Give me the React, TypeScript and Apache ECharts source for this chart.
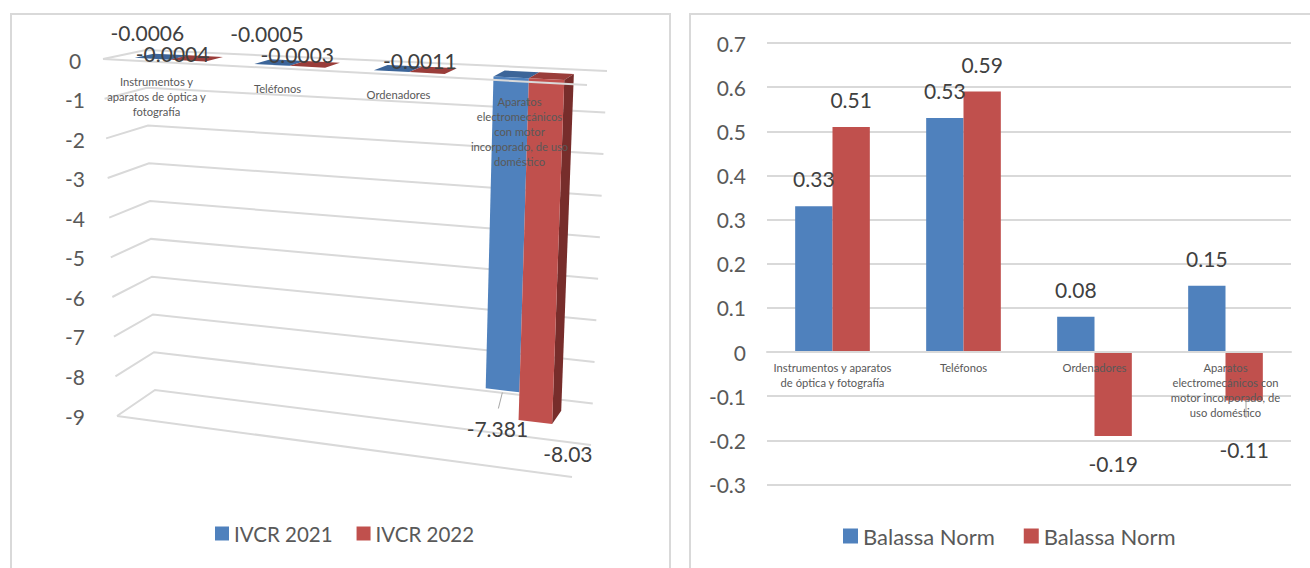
import React, { useEffect, useRef } from "react";
import * as echarts from "echarts";

const categoriesLeft = [
  "Instrumentos y\naparatos de óptica y\nfotografía",
  "Teléfonos",
  "Ordenadores",
  "Aparatos\nelectromecánicos\ncon motor\nincorporado, de uso\ndoméstico",
];
const categoriesRight = [
  "Instrumentos y aparatos\nde óptica y fotografía",
  "Teléfonos",
  "Ordenadores",
  "Aparatos\nelectromecánicos con\nmotor incorporado, de\nuso doméstico",
];
const ivcr2021 = [-0.0006, -0.0005, -0.0011, -7.381];
const ivcr2022 = [-0.0004, -0.0003, -0.0011, -8.03];
const balassaA = [0.33, 0.53, 0.08, 0.15];
const balassaB = [0.51, 0.59, -0.19, -0.11];
const ticksLeft = [0, -1, -2, -3, -4, -5, -6, -7, -8, -9];

const BLUE = "#4f81bd";
const RED = "#c0504d";
const BLUE_TOP = "#3c6599";
const RED_TOP = "#9a3d3a";
const RED_SIDE = "#772d2b";
const GRID = "#d9d9d9";
const FONT = "Lato";

// 3D box of the left chart, in pixels
const GL = { left: 90, top: 60, width: 400, height: 356 };
const lerp = (a: number, b: number, k: number) => a + (b - a) * k;
const FL0 = [103, 59], FL9 = [117, 416];
const FR0 = [587, 85], FR9 = [572, 477];
const BL0 = [146, 50], BL9 = [155, 390];
const BR0 = [607, 71], BR9 = [591, 445];
const project = (u: number, t: number, d: number): number[] =>
  [0, 1].map((i) => {
    const front = lerp(lerp(FL0[i], FL9[i], t), lerp(FR0[i], FR9[i], t), u);
    const back = lerp(lerp(BL0[i], BL9[i], t), lerp(BR0[i], BR9[i], t), u);
    return lerp(front, back, d);
  });
const toU = (px: number) => (px - GL.left) / GL.width;
const toT = (py: number) => (py - GL.top) / GL.height;

const D_FRONT = 0.25;
const D_BACK = 0.7;
const HALF = 0.037;
const CENTER_SHIFT = -0.007;

const barRender = (shift: number, front: string, top: string, side: string | null) =>
  (_: any, api: any) => {
    const c = api.coord([api.value(0), api.value(1)]);
    const base = api.coord([api.value(0), 0]);
    const uc = toU(c[0]) + CENTER_SHIFT + shift;
    const t0 = toT(base[1]);
    const t1 = toT(c[1]);
    const a = uc - HALF;
    const b = uc + HALF;
    const children: any[] = [
      {
        type: "polygon",
        shape: { points: [project(a, t0, D_FRONT), project(b, t0, D_FRONT), project(b, t0, D_BACK), project(a, t0, D_BACK)] },
        style: { fill: top },
      },
    ];
    if (side) {
      children.push({
        type: "polygon",
        shape: { points: [project(b, t0, D_FRONT), project(b, t0, D_BACK), project(b, t1, D_BACK), project(b, t1, D_FRONT)] },
        style: { fill: side },
      });
    }
    children.push({
      type: "polygon",
      shape: { points: [project(a, t0, D_FRONT), project(b, t0, D_FRONT), project(b, t1, D_FRONT), project(a, t1, D_FRONT)] },
      style: { fill: front },
    });
    return { type: "group", children };
  };

const gridBackRender = (_: any, api: any) => {
  const y = api.coord([0, api.value(0)])[1];
  const t = toT(y);
  const pts = [project(0, t, 0), project(0, t, 1), project(1, t, 1)];
  const children: any[] = [
    { type: "polyline", shape: { points: pts }, style: { stroke: GRID, lineWidth: 2, fill: "none" } },
  ];
  if (api.value(0) === ticksLeft[ticksLeft.length - 1]) {
    children.push({
      type: "polyline",
      shape: { points: [project(0, t, 0), project(1, t, 0)] },
      style: { stroke: GRID, lineWidth: 2, fill: "none" },
    });
  }
  return { type: "group", children };
};

const gridFrontRender = (_: any, api: any) => {
  const t = toT(api.coord([0, api.value(0)])[1]);
  return {
    type: "polyline",
    shape: { points: [project(0, t, 0), project(1, t, 0)] },
    style: { stroke: GRID, lineWidth: 2, fill: "none" },
  };
};

const catRender = (params: any, api: any) => {
  const c = api.coord([api.value(0), 0]);
  const p = project(toU(c[0]), 0, 0);
  return {
    type: "text",
    style: {
      text: categoriesLeft[params.dataIndex],
      x: p[0] - 7,
      y: p[1] + 12,
      align: "center",
      verticalAlign: "top",
      fill: "#595959",
      fontSize: 11.2,
      lineHeight: 15,
      fontFamily: FONT,
    },
  };
};

// label displacement from each bar's front base corner: [series][category]
const labelShift: (number[] | null)[][] = [
  [[-7, -26], [-7, -32], null, [-7, 38]],
  [[-20, -7], [-15, -13], [-12, -13], [28, 31]],
];

const labelRender = (_: any, api: any) => {
  const cat = api.value(0);
  const v = api.value(1);
  const s = api.value(2);
  const shift = labelShift[s][cat];
  if (!shift) return { type: "group", children: [] };
  const c = api.coord([cat, v]);
  const u = toU(c[0]) + (s === 0 ? -0.04 : 0.04);
  const p = project(u, toT(c[1]), D_FRONT);
  const children: any[] = [
    {
      type: "text",
      style: {
        text: String(v),
        x: p[0] + shift[0],
        y: p[1] + shift[1],
        align: "center",
        verticalAlign: "middle",
        fill: "#404040",
        fontSize: 21,
        fontFamily: FONT,
      },
    },
  ];
  if (v < -1 && s === 0) {
    children.push({
      type: "line",
      shape: { x1: p[0] - 2, y1: p[1] + 2, x2: p[0] - 6, y2: p[1] + 18 },
      style: { stroke: "#a6a6a6", lineWidth: 1 },
    });
  }
  return { type: "group", children };
};

const customBase = { type: "custom", coordinateSystem: "cartesian2d", xAxisIndex: 0, yAxisIndex: 0, clip: false, silent: true };
const pairs = (arr: number[]) => arr.map((v, i) => [i, v]);

const rightBar = (arr: number[], name: string, color: string) => ({
  type: "bar",
  name,
  xAxisIndex: 1,
  yAxisIndex: 1,
  barCategoryGap: "43%",
  barGap: 0,
  itemStyle: { color },
  data: arr.map((v) => ({
    value: v,
    label: {
      show: true,
      position: v < 0 ? "bottom" : "top",
      distance: v === balassaB[3] ? 38 : 17,
      color: "#404040",
      fontSize: 21,
      fontFamily: FONT,
    },
  })),
});

export default function App() {
  const ref = useRef<HTMLDivElement>(null);
  useEffect(() => {
    const chart = echarts.init(ref.current!, undefined, { renderer: "svg" });
    chart.setOption({
      animation: false,
      backgroundColor: "#ffffff",
      textStyle: { fontFamily: FONT },
      grid: [
        { left: GL.left, top: GL.top, width: GL.width, height: GL.height },
        { left: 767, top: 43, width: 524, height: 441.5 },
      ],
      xAxis: [
        { type: "category", gridIndex: 0, data: categoriesLeft, show: false },
        {
          type: "category",
          gridIndex: 1,
          data: categoriesRight,
          z: 6,
          axisLine: { show: true, onZero: true, lineStyle: { color: GRID, width: 2 } },
          axisTick: { show: false },
          axisLabel: { color: "#595959", fontSize: 11.2, lineHeight: 15, margin: -124.6, fontFamily: FONT, interval: 0 },
        },
      ],
      yAxis: [
        {
          type: "value",
          gridIndex: 0,
          min: -9,
          max: 0,
          interval: 1,
          splitLine: { show: false },
          axisLine: { show: false },
          axisTick: { show: false },
          axisLabel: { color: "#595959", fontSize: 21, fontFamily: FONT, align: "center", margin: 15 },
        },
        {
          type: "value",
          gridIndex: 1,
          min: -0.3,
          max: 0.7,
          interval: 0.1,
          splitLine: { show: true, lineStyle: { color: GRID, width: 2 } },
          axisLine: { show: false },
          axisTick: { show: false },
          axisLabel: { color: "#595959", fontSize: 21, fontFamily: FONT, margin: 21, padding: [0, 0, 3, 0] },
        },
      ],
      legend: [
        {
          left: 210,
          top: 518,
          itemWidth: 14,
          itemHeight: 14,
          itemGap: 24,
          icon: "rect",
          data: ["IVCR 2021", "IVCR 2022"],
          textStyle: { color: "#595959", fontSize: 20.5, fontFamily: FONT },
        },
        {
          left: 838,
          top: 520,
          itemWidth: 15,
          itemHeight: 15,
          itemGap: 29,
          icon: "rect",
          data: ["Balassa Norm", "Balassa Norm "],
          textStyle: { color: "#595959", fontSize: 22, fontFamily: FONT },
        },
      ],
      graphic: [
        { type: "rect", z: -1, shape: { x: 11, y: 14, width: 659, height: 600 }, style: { fill: "none", stroke: GRID, lineWidth: 2 } },
        { type: "rect", z: -1, shape: { x: 690, y: 14, width: 660, height: 600 }, style: { fill: "none", stroke: GRID, lineWidth: 2 } },
        { type: "line", z: 100, shape: { x1: 1246, y1: 400, x2: 1246, y2: 418 }, style: { stroke: "#a6a6a6", lineWidth: 1 } },
      ],
      series: [
        { ...customBase, name: "gridlines", z: 1, data: ticksLeft.map((v) => [v]), encode: { y: 0 }, renderItem: gridBackRender },
        { ...customBase, name: "IVCR 2021", z: 2, itemStyle: { color: BLUE }, data: pairs(ivcr2021), encode: { x: 0, y: 1 }, renderItem: barRender(-0.037, BLUE, BLUE_TOP, null) },
        { ...customBase, name: "IVCR 2022", z: 3, itemStyle: { color: RED }, data: pairs(ivcr2022), encode: { x: 0, y: 1 }, renderItem: barRender(0.037, RED, RED_TOP, RED_SIDE) },
        { ...customBase, name: "front gridline", z: 4, data: [[ticksLeft[0]]], encode: { y: 0 }, renderItem: gridFrontRender },
        { ...customBase, name: "categories", z: 5, data: categoriesLeft.map((_, i) => [i]), encode: { x: 0 }, renderItem: catRender },
        {
          ...customBase,
          name: "data labels",
          z: 6,
          data: [...ivcr2021.map((v, i) => [i, v, 0]), ...ivcr2022.map((v, i) => [i, v, 1])],
          encode: { x: 0, y: 1 },
          renderItem: labelRender,
        },
        rightBar(balassaA, "Balassa Norm", BLUE),
        rightBar(balassaB, "Balassa Norm ", RED),
      ],
    });
    return () => chart.dispose();
  }, []);
  return <div ref={ref} style={{ position: "fixed", left: 0, top: 0, width: 1310, height: 568 }} />;
}
